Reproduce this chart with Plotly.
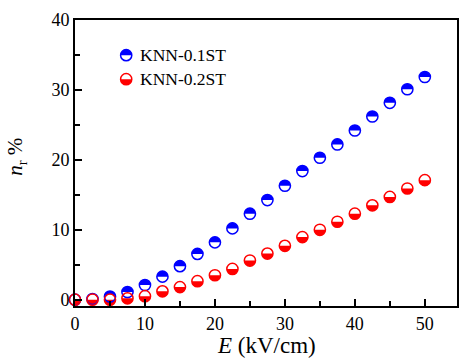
import plotly.graph_objects as go

# Electric field (kV/cm) and recoverable fraction n_r (%)
E_FIELD = [0, 2.5, 5, 7.5, 10, 12.5, 15, 17.5, 20, 22.5, 25,
           27.5, 30, 32.5, 35, 37.5, 40, 42.5, 45, 47.5, 50]
NR_01ST = [0, 0.1, 0.45, 1.1, 2.1, 3.3, 4.8, 6.55, 8.2, 10.2, 12.3,
           14.25, 16.3, 18.4, 20.3, 22.2, 24.2, 26.2, 28.15, 30.1, 31.85]
NR_02ST = [0, 0, 0, 0.2, 0.5, 1.2, 1.8, 2.65, 3.5, 4.4, 5.6,
           6.6, 7.7, 8.95, 10.0, 11.15, 12.3, 13.5, 14.7, 15.9, 17.1]

SERIES_NAMES = ["KNN-0.1ST", "KNN-0.2ST"]
SERIES_VALUES = [NR_01ST, NR_02ST]
SERIES_COLORS = ["#0000ff", "#ff0000"]
SERIES_HALF = ["upper", "lower"]

X_TICKS = [0, 10, 20, 30, 40, 50]
Y_TICKS = [0, 10, 20, 30, 40]

FONT = "Liberation Serif"
MARKER_R = 5.6
K = 0.5523


def half_disc_path(r, half):
    """Semicircle path in pixel units (y up), flat side on the centre line."""
    s = 1 if half == "upper" else -1
    kr = K * r
    return (f"M {-r},0 C {-r},{s*kr} {-kr},{s*r} 0,{s*r} "
            f"C {kr},{s*r} {r},{s*kr} {r},0 Z")


def disc_shapes(x, y, color, half, xref="x", yref="y"):
    common = dict(xref=xref, yref=yref, xsizemode="pixel", ysizemode="pixel",
                  xanchor=x, yanchor=y, layer="below")
    return [
        dict(type="circle", x0=-MARKER_R, x1=MARKER_R, y0=-MARKER_R, y1=MARKER_R,
             fillcolor="white", line=dict(width=0), **common),
        dict(type="path", path=half_disc_path(MARKER_R, half),
             fillcolor=color, line=dict(width=0), **common),
    ]


fig = go.Figure()
shapes = []

for name, vals, color, half in zip(SERIES_NAMES, SERIES_VALUES, SERIES_COLORS, SERIES_HALF):
    for x, y in zip(E_FIELD, vals):
        shapes += disc_shapes(x, y, color, half)
    fig.add_trace(go.Scatter(
        x=E_FIELD, y=vals, mode="markers", name=name, showlegend=False,
        marker=dict(symbol="circle", size=2 * MARKER_R, color="rgba(0,0,0,0)",
                    line=dict(color=color, width=1.5)),
        cliponaxis=False,
    ))

# Hand-built legend in the upper-left corner
LEG_X = 0.134
LEG_Y = [0.877, 0.793]
annotations = []
for name, color, half, ly in zip(SERIES_NAMES, SERIES_COLORS, SERIES_HALF, LEG_Y):
    shapes += disc_shapes(LEG_X, ly, color, half, xref="paper", yref="paper")
    shapes.append(dict(type="circle", xref="paper", yref="paper",
                       xsizemode="pixel", ysizemode="pixel", xanchor=LEG_X, yanchor=ly,
                       x0=-MARKER_R, x1=MARKER_R, y0=-MARKER_R, y1=MARKER_R,
                       line=dict(color=color, width=1.5), fillcolor="rgba(0,0,0,0)"))
    annotations.append(dict(x=LEG_X + 0.03, y=ly, xref="paper", yref="paper",
                            xanchor="left", yanchor="middle", showarrow=False,
                            text=name, font=dict(family=FONT, size=17.5, color="black")))

# Axis titles
annotations.append(dict(x=0.5, y=-0.138, xref="paper", yref="paper",
                        xanchor="center", yanchor="middle", showarrow=False,
                        text="<i>E</i> (kV/cm)",
                        font=dict(family=FONT, size=23, color="black")))
annotations.append(dict(x=-0.153, y=0.52, xref="paper", yref="paper",
                        xanchor="center", yanchor="middle", showarrow=False,
                        textangle=-90, text="<i>n</i><sub>r</sub> %",
                        font=dict(family=FONT, size=21, color="black")))

axis_common = dict(
    showgrid=False, zeroline=False, showline=True, linecolor="black", linewidth=2,
    mirror=True, ticks="inside", ticklen=7, tickwidth=2, tickcolor="black",
    tickfont=dict(family=FONT, size=18, color="black"),
    minor=dict(ticks="inside", ticklen=5, tickwidth=2, tickcolor="black", dtick=5),
)

fig.update_layout(
    width=461, height=363,
    margin=dict(l=75, r=2, t=20, b=57),
    paper_bgcolor="white", plot_bgcolor="white",
    font=dict(family=FONT, color="black"),
    shapes=shapes, annotations=annotations,
    xaxis=dict(range=[0, 54.6], tickvals=X_TICKS, **axis_common),
    yaxis=dict(range=[-0.9, 40], tickvals=Y_TICKS, **axis_common),
)

fig.write_html("out.html")
